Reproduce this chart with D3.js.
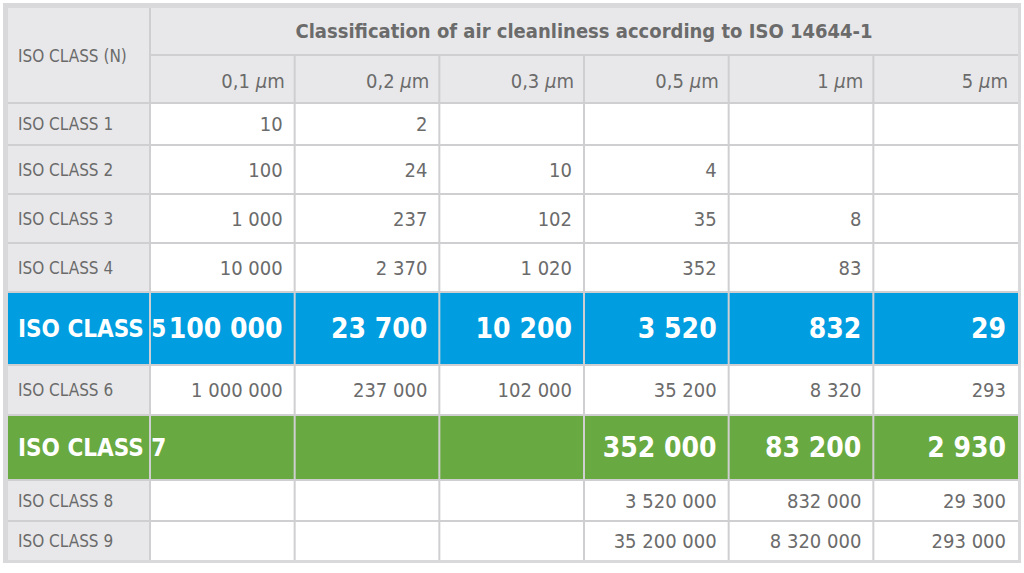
<!DOCTYPE html>
<html><head><meta charset="utf-8">
<script src="https://cdn.jsdelivr.net/npm/d3@7"></script>
<style>
body{margin:0;background:#fff;}
text{font-family:"Liberation Sans Narrow","DejaVu Sans Condensed",sans-serif;}
</style></head>
<body><svg id="svg" width="1024" height="573"></svg>
<script>
const title = "Classification of air cleanliness according to  ISO 14644-1";
const sizes = ["0,1", "0,2", "0,3", "0,5", "1", "5"];
const classes = ["ISO CLASS 1", "ISO CLASS 2", "ISO CLASS 3", "ISO CLASS 4", "ISO CLASS 5",
  "ISO CLASS 6", "ISO CLASS 7", "ISO CLASS 8", "ISO CLASS 9"];
const values = [
  ["10", "2", "", "", "", ""],
  ["100", "24", "10", "4", "", ""],
  ["1 000", "237", "102", "35", "8", ""],
  ["10 000", "2 370", "1 020", "352", "83", ""],
  ["100 000", "23 700", "10 200", "3 520", "832", "29"],
  ["1 000 000", "237 000", "102 000", "35 200", "8 320", "293"],
  ["", "", "", "352 000", "83 200", "2 930"],
  ["", "", "", "3 520 000", "832 000", "29 300"],
  ["", "", "", "35 200 000", "8 320 000", "293 000"]
];
const highlight = {"ISO CLASS 5": "#009ee0", "ISO CLASS 7": "#69a941"};

const ROW_H = [42, 49, 49, 49, 73, 50, 65, 41, 39];
const GREY = "#e8e8ea", LINE = "#cfcfd1", TXT = "#6b6b6b";

const svg = d3.select("#svg");
const x = d3.scaleBand().domain(sizes).range([150, 1018]);
const rowY = [103];
ROW_H.forEach((h, i) => rowY.push(rowY[i] + h));

// frame
svg.append("rect").attr("x", 3).attr("y", 3).attr("width", 1018).attr("height", 560)
  .attr("fill", "#d9d9db");
svg.append("rect").attr("x", 8).attr("y", 8).attr("width", 1010).attr("height", 552)
  .attr("fill", GREY);

// header
svg.append("text").attr("x", 584).attr("y", 38).attr("text-anchor", "middle")
  .attr("font-size", 20).attr("font-weight", "bold").attr("fill", TXT).text(title);
svg.append("text").attr("x", 18).attr("y", 62).attr("font-size", 17).attr("fill", TXT)
  .text("ISO CLASS (N)");
svg.append("line").attr("x1", 150).attr("x2", 1018).attr("y1", 55).attr("y2", 55)
  .attr("stroke", LINE).attr("stroke-width", 2);
const hd = svg.append("g").selectAll("text").data(sizes).enter().append("text")
  .attr("x", d => x(d) + x.bandwidth() - 10).attr("y", 88).attr("text-anchor", "end")
  .attr("font-size", 20).attr("fill", TXT);
hd.append("tspan").text(d => d + " ");
hd.append("tspan").attr("font-style", "italic").text("µ");
hd.append("tspan").text("m");

// body rows
const rows = svg.append("g").selectAll("g").data(classes).enter().append("g")
  .attr("transform", (d, i) => `translate(0,${rowY[i]})`);
rows.append("rect").attr("x", 150).attr("width", 868).attr("height", (d, i) => ROW_H[i])
  .attr("fill", d => highlight[d] || "#fff");
rows.filter(d => highlight[d]).append("rect").attr("x", 8).attr("width", 142)
  .attr("height", (d, i) => ROW_H[classes.indexOf(d)]).attr("fill", d => highlight[d]);
rows.append("text").attr("x", 18).attr("y", (d, i) => ROW_H[i] / 2 + (highlight[d] ? 8 : 6))
  .attr("font-size", d => highlight[d] ? 24 : 17)
  .attr("font-weight", d => highlight[d] ? "bold" : "normal")
  .attr("fill", d => highlight[d] ? "#fff" : TXT).text(d => d);
rows.each(function(c, i) {
  const hl = !!highlight[c];
  d3.select(this).selectAll("text.v").data(values[i]).enter().append("text").attr("class", "v")
    .attr("x", (v, j) => x(sizes[j]) + x.bandwidth() - 12)
    .attr("y", ROW_H[i] / 2 + (hl ? 9 : 7)).attr("text-anchor", "end")
    .attr("font-size", hl ? 28 : 20).attr("font-weight", hl ? "bold" : "normal")
    .attr("fill", hl ? "#fff" : TXT).text(v => v);
});

// grid lines
const g = svg.append("g").attr("stroke", LINE).attr("stroke-width", 2);
rowY.slice(0, -1).forEach(y => g.append("line").attr("x1", 8).attr("x2", 1018).attr("y1", y).attr("y2", y));
g.append("line").attr("x1", 150).attr("x2", 150).attr("y1", 8).attr("y2", 560);
sizes.slice(1).forEach(s => g.append("line").attr("x1", x(s)).attr("x2", x(s)).attr("y1", 55).attr("y2", 560));
</script></body></html>
